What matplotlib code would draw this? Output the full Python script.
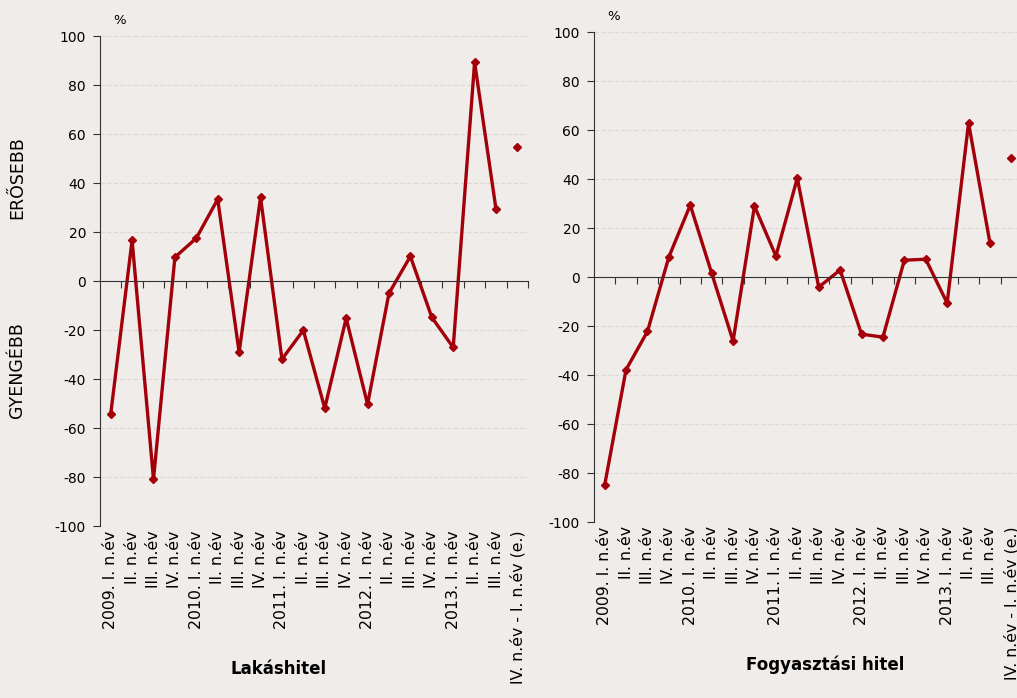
import numpy as np
import matplotlib.pyplot as plt
from matplotlib.transforms import offset_copy

plt.rcParams['font.family'] = ['DejaVu Sans']

quarters = ["2009. I. n.év", "II. n.év", "III. n.év", "IV. n.év",
            "2010. I. n.év", "II. n.év", "III. n.év", "IV. n.év",
            "2011. I. n.év", "II. n.év", "III. n.év", "IV. n.év",
            "2012. I. n.év", "II. n.év", "III. n.év", "IV. n.év",
            "2013. I. n.év", "II. n.év", "III. n.év",
            "IV. n.év - I. n.év (e.)"]

# net % of banks reporting stronger demand
lakashitel = [-54.3, 16.7, -80.8, 9.8, 17.6, 33.5, -29.0, 34.3, -31.8, -20.0,
              -51.8, -15.1, -50.2, -4.9, 10.2, -14.7, -27.0, 89.4, 29.4, 54.7]
fogyasztasi = [-85.0, -37.8, -22.2, 8.2, 29.4, 1.6, -26.1, 29.0, 8.6, 40.4,
               -4.1, 2.9, -23.3, -24.5, 6.9, 7.3, -10.6, 62.9, 13.9, 48.6]

titles = ["Lakáshitel", "Fogyasztási hitel"]
title_x = [0.416, 0.541]
yticks = list(range(-100, 101, 20))

BG = "#efece9"
RED = "#a3000a"

fig = plt.figure(figsize=(10.17, 6.98), dpi=100, facecolor=BG)
positions = [[0.0983, 0.246, 0.421, 0.702], [0.584, 0.252, 0.421, 0.702]]


def draw_panel(ax, values, title, tx):
    ax.set_facecolor(BG)
    x = np.arange(len(values))
    # the estimate for the next quarter is a separate point
    ax.plot(x[:-1], values[:-1], color=RED, lw=2.4, marker="D", ms=4.5)
    ax.plot(x[-1:], values[-1:], color=RED, ls="none", marker="D", ms=4.5)

    ax.set_xlim(-0.5, len(values) - 0.5)
    ax.set_ylim(-100, 100)
    ax.set_yticks(yticks)
    ax.set_yticklabels([str(v) for v in yticks], fontsize=10)
    for v in yticks:
        if v != 0:
            ax.axhline(v, color="#dcd8d4", lw=0.8, ls=(0, (4, 2)), zorder=0)

    for s in ["top", "right"]:
        ax.spines[s].set_visible(False)
    ax.spines["left"].set_color("#333333")
    ax.spines["bottom"].set_position(("data", 0))
    ax.spines["bottom"].set_color("#333333")
    ax.set_xticks(np.arange(0.5, len(values), 1))
    ax.tick_params(axis="x", direction="out", length=5, labelbottom=False,
                   color="#333333")
    ax.tick_params(axis="y", direction="out", length=5, color="#333333", pad=5)

    trans = offset_copy(ax.get_xaxis_transform(), fig=fig, x=0, y=-3,
                        units="points")
    for i, lab in enumerate(quarters):
        ax.text(i, 0, lab, transform=trans, rotation=90, ha="center",
                va="top", fontsize=11.3)

    ax.text(0.03, 1.025, "%", transform=ax.transAxes, fontsize=9.5)
    ax.text(tx, -0.292, title, transform=ax.transAxes, ha="center",
            va="center", fontsize=12, fontweight="bold")


for pos, vals, t, tx in zip(positions, [lakashitel, fogyasztasi], titles, title_x):
    ax = fig.add_axes(pos)
    draw_panel(ax, vals, t, tx)

fig.text(0.017, 0.745, "ERŐSEBB", rotation=90, ha="center", va="center",
         fontsize=12.5)
fig.text(0.017, 0.47, "GYENGÉBB", rotation=90, ha="center", va="center",
         fontsize=12.5)

fig.savefig("out.png", dpi=100, facecolor=BG)
